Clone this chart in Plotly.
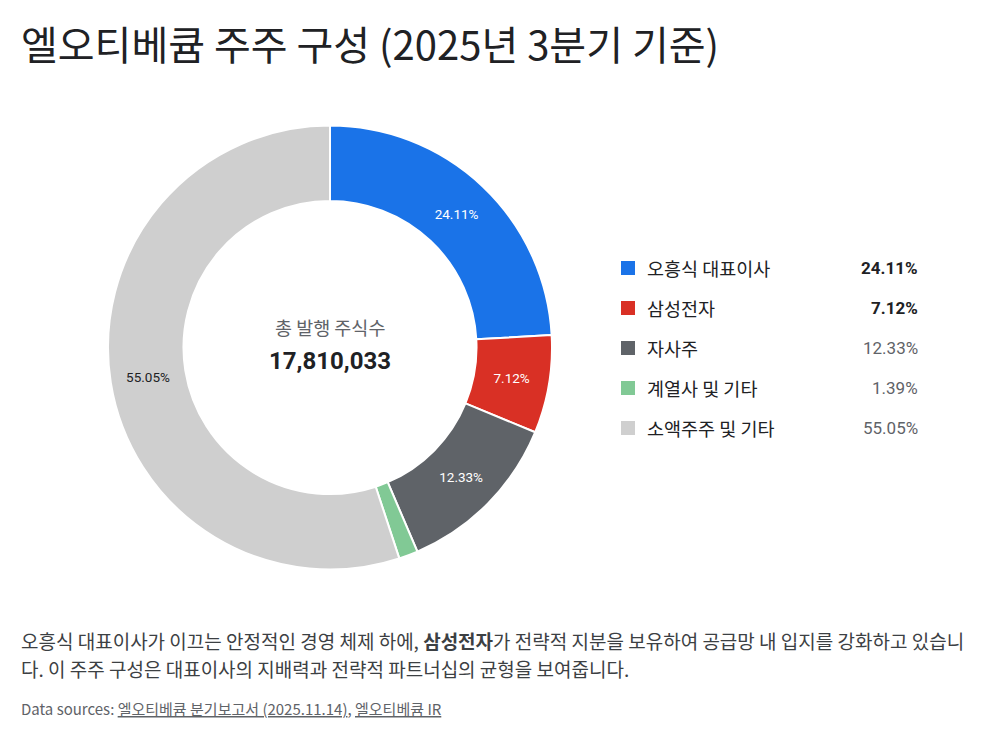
import plotly.graph_objects as go

labels = ["오흥식 대표이사", "삼성전자", "자사주", "계열사 및 기타", "소액주주 및 기타"]
values = [24.11, 7.12, 12.33, 1.39, 55.05]
colors = ["#1a73e8", "#d93025", "#5f6368", "#81c995", "#cfcfcf"]
text_colors = ["#ffffff", "#ffffff", "#ffffff", "#ffffff", "#202124"]
value_bold = [True, True, False, False, False]
total_shares = 17810033

FONT = "Noto Sans CJK KR, Noto Sans, sans-serif"
NUMFONT = "Roboto, Noto Sans CJK KR, sans-serif"

slice_text = [f"{v:.2f}%" if v >= 3 else "" for v in values]

fig = go.Figure()
fig.add_trace(go.Pie(
    labels=labels, values=values, sort=False, direction="clockwise", rotation=0,
    hole=0.66,
    marker=dict(colors=colors, line=dict(color="#ffffff", width=2)),
    text=slice_text, textinfo="text", textposition="inside",
    insidetextorientation="horizontal",
    insidetextfont=dict(family=NUMFONT, size=13.5, color=text_colors),
    domain=dict(x=[0.108, 0.552], y=[0.24, 0.8333]),
    showlegend=False, hoverinfo="label+percent",
))

annotations = [
    dict(text="엘오티베큠 주주 구성 (2025년 3분기 기준)", x=19, y=43, showarrow=False,
         xanchor="left", yanchor="middle",
         font=dict(family=FONT, size=40, color="#202124")),
    dict(text="총 발행 주식수", x=330, y=327, showarrow=False, xanchor="center", yanchor="middle",
         font=dict(family=FONT, size=18.5, color="#5f6368")),
    dict(text=f"<b>{total_shares:,}</b>", x=330, y=361, showarrow=False, xanchor="center", yanchor="middle",
         font=dict(family=NUMFONT, size=24, color="#202124")),
    dict(text="오흥식 대표이사가 이끄는 안정적인 경영 체제 하에, <b>삼성전자</b>가 전략적 지분을 보유하여 공급망 내 입지를 강화하고 있습니",
         x=19, y=640, showarrow=False, xanchor="left", yanchor="middle", align="left",
         font=dict(family=FONT, size=19, color="#3c4043")),
    dict(text="다. 이 주주 구성은 대표이사의 지배력과 전략적 파트너십의 균형을 보여줍니다.",
         x=19, y=668, showarrow=False, xanchor="left", yanchor="middle", align="left",
         font=dict(family=FONT, size=19, color="#3c4043")),
    dict(text="Data sources: <u>엘오티베큠 분기보고서 (2025.11.14)</u>, <u>엘오티베큠 IR</u>",
         x=19, y=708, showarrow=False, xanchor="left", yanchor="middle",
         font=dict(family=FONT, size=15, color="#5f6368")),
]

shapes = []
for i, (lab, val, col, b) in enumerate(zip(labels, values, colors, value_bold)):
    yc = 268 + i * 40
    shapes.append(dict(type="rect", x0=621, x1=635, y0=yc - 7, y1=yc + 7,
                       fillcolor=col, line=dict(width=0), layer="above"))
    annotations.append(dict(text=lab, x=645, y=yc, showarrow=False, xanchor="left", yanchor="middle",
                            font=dict(family=FONT, size=18.5, color="#202124")))
    vt = f"<b>{val:.2f}%</b>" if b else f"{val:.2f}%"
    annotations.append(dict(text=vt, x=920, y=yc, showarrow=False, xanchor="right", yanchor="middle",
                            font=dict(family=NUMFONT, size=17, color="#202124" if b else "#5f6368")))

for a in annotations:
    a["xref"] = "x"
    a["yref"] = "y"
for s in shapes:
    s["xref"] = "x"
    s["yref"] = "y"

fig.update_layout(
    width=1000, height=750, margin=dict(l=0, r=0, t=0, b=0),
    paper_bgcolor="#ffffff", plot_bgcolor="rgba(0,0,0,0)",
    xaxis=dict(range=[0, 1000], visible=False, fixedrange=True),
    yaxis=dict(range=[750, 0], visible=False, fixedrange=True),
    annotations=annotations, shapes=shapes,
)

fig.write_html("out.html")
